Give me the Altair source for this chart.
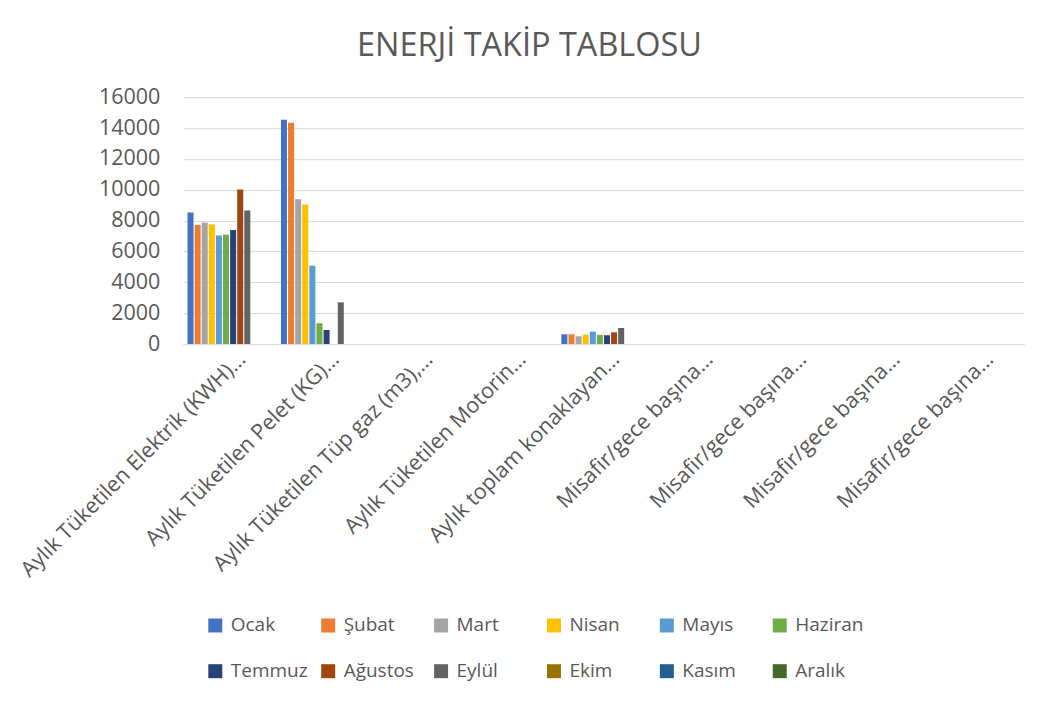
import altair as alt
import pandas as pd

categories = [
    "Aylık Tüketilen Elektrik (KWH)",
    "Aylık Tüketilen Pelet (KG)",
    "Aylık Tüketilen Tüp gaz (m3)",
    "Aylık Tüketilen Motorin (L)",
    "Aylık toplam konaklayan misafir",
    "Misafir/gece başına elektrik",
    "Misafir/gece başına pelet",
    "Misafir/gece başına tüp gaz",
    "Misafir/gece başına motorin",
]
category_labels = [
    "Aylık Tüketilen Elektrik (KWH)…",
    "Aylık Tüketilen Pelet (KG)…",
    "Aylık Tüketilen Tüp gaz (m3),…",
    "Aylık Tüketilen Motorin…",
    "Aylık toplam konaklayan…",
    "Misafir/gece başına…",
    "Misafir/gece başına…",
    "Misafir/gece başına…",
    "Misafir/gece başına…",
]
months = ["Ocak", "Şubat", "Mart", "Nisan", "Mayıs", "Haziran",
          "Temmuz", "Ağustos", "Eylül", "Ekim", "Kasım", "Aralık"]
colors = ["#4472C4", "#ED7D31", "#A5A5A5", "#FFC000", "#5B9BD5", "#70AD47",
          "#264478", "#9E480E", "#636363", "#997300", "#255E91", "#43682B"]

ocak = [8520, 14540, 0, 0, 630, 0, 0, 0, 0]
subat = [7720, 14350, 0, 0, 630, 0, 0, 0, 0]
mart = [7870, 9390, 0, 0, 500, 0, 0, 0, 0]
nisan = [7760, 9040, 0, 0, 610, 0, 0, 0, 0]
mayis = [7040, 5070, 0, 0, 800, 0, 0, 0, 0]
haziran = [7090, 1350, 0, 0, 590, 0, 0, 0, 0]
temmuz = [7390, 910, 0, 0, 570, 0, 0, 0, 0]
agustos = [10020, 0, 0, 0, 760, 0, 0, 0, 0]
eylul = [8650, 2700, 0, 0, 1040, 0, 0, 0, 0]
ekim = [0, 0, 0, 0, 0, 0, 0, 0, 0]
kasim = [0, 0, 0, 0, 0, 0, 0, 0, 0]
aralik = [0, 0, 0, 0, 0, 0, 0, 0, 0]

series = [ocak, subat, mart, nisan, mayis, haziran,
          temmuz, agustos, eylul, ekim, kasim, aralik]
y_ticks = [0, 2000, 4000, 6000, 8000, 10000, 12000, 14000, 16000]

rows = []
for m, vals in zip(months, series):
    for c, v in zip(categories, vals):
        rows.append({"kategori": c, "ay": m, "deger": v})
df = pd.DataFrame(rows)

keys_js = "[" + ",".join('"%s"' % c for c in categories) + "]"
labels_js = "[" + ",".join('"%s"' % c for c in category_labels) + "]"
label_expr = labels_js + "[indexof(" + keys_js + ", datum.value)]"

TXT = "#595959"
GRID = "#D9D9D9"

chart = alt.Chart(df).mark_bar().encode(
    x=alt.X(
        "kategori:N", sort=categories,
        scale=alt.Scale(paddingInner=0.1, paddingOuter=0.05),
        axis=alt.Axis(title=None, labelAngle=-45, labelAlign="right",
                      labelBaseline="middle", labelExpr=label_expr,
                      labelPadding=12, labelOffset=13, ticks=False,
                      domainColor=GRID, domainWidth=1, labelFontSize=21.5,
                      labelColor=TXT, labelLimit=500),
    ),
    xOffset=alt.XOffset("ay:N", sort=months, scale=alt.Scale(paddingInner=0.15)),
    y=alt.Y(
        "deger:Q", scale=alt.Scale(domain=[0, 16000]),
        axis=alt.Axis(values=y_ticks, title=None, domain=False, ticks=False,
                      gridColor=GRID, labelPadding=23, labelFontSize=21.5,
                      labelColor=TXT, format="d"),
    ),
    color=alt.Color(
        "ay:N", sort=months,
        scale=alt.Scale(domain=months, range=colors),
        legend=alt.Legend(orient="none", legendX=23, legendY=519,
                          direction="horizontal", columns=6,
                          symbolType="square", symbolSize=196,
                          labelFontSize=19, labelColor=TXT, title=None,
                          gridAlign="all", columnPadding=11, rowPadding=26,
                          symbolStrokeWidth=0, labelOffset=6),
    ),
).properties(
    width=842, height=247,
    autosize=alt.AutoSizeParams(type="none"),
    padding={"left": 175, "top": 89, "right": 10, "bottom": 350},
    title=alt.TitleParams("ENERJİ TAKİP TABLOSU", fontSize=32.5,
                          fontWeight="normal", color=TXT, anchor="middle",
                          dx=-74, offset=24),
).configure(font="Open Sans").configure_view(strokeWidth=0)

chart.save("out.html", embed_options={"renderer": "svg", "actions": False})
